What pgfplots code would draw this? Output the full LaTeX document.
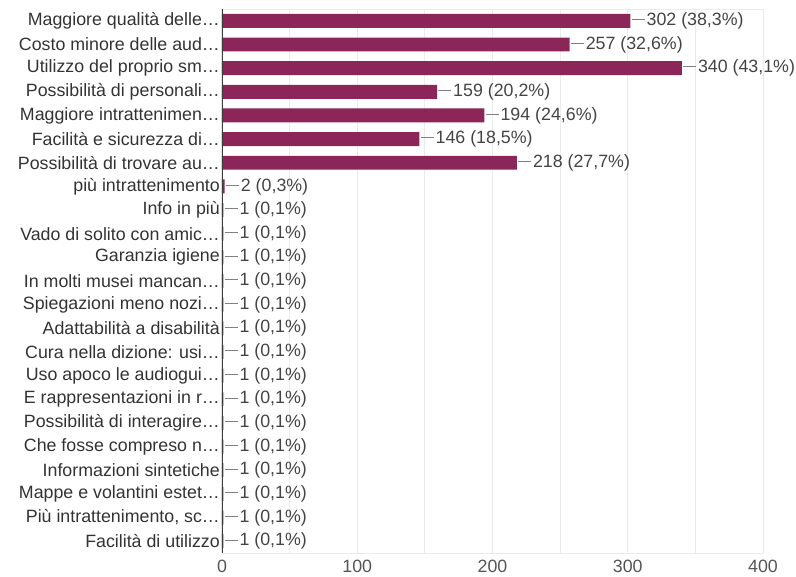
\documentclass[border=0pt]{standalone}
\usepackage{fontspec}
\setmainfont{Liberation Sans}
\usepackage{pgfplots}
\pgfplotsset{compat=1.18}
\usepackage{pgfplotstable}
\definecolor{barc}{RGB}{140,38,88}
\definecolor{lab}{RGB}{51,51,51}
\definecolor{vlab}{RGB}{68,68,68}
\definecolor{tlab}{RGB}{85,85,85}
\definecolor{gridc}{RGB}{235,235,235}
\definecolor{axc}{RGB}{60,60,60}
\pgfplotstableread{
i v p
0 302 38.3
1 257 32.6
2 340 43.1
3 159 20.2
4 194 24.6
5 146 18.5
6 218 27.7
7 2 0.3
8 1 0.1
9 1 0.1
10 1 0.1
11 1 0.1
12 1 0.1
13 1 0.1
14 1 0.1
15 1 0.1
16 1 0.1
17 1 0.1
18 1 0.1
19 1 0.1
20 1 0.1
21 1 0.1
22 1 0.1
}\datatab
\newcommand{\fs}{\fontsize{17.8bp}{20bp}\selectfont}
\begin{document}
\begin{tikzpicture}
\begin{axis}[
  at={(0,0)}, anchor=south west,
  scale only axis, width=541bp, height=544bp,
  xmin=0, xmax=400, ymin=-0.5, ymax=22.5,
  y dir=reverse,
  xtick={0,100,200,300,400},
  minor x tick num=1,
  xmajorgrids=true, xminorgrids=true, ymajorgrids=false,
  major grid style={draw=gridc, line width=0.8bp},
  minor grid style={draw=gridc, line width=0.8bp},
  axis line style={draw=gridc, line width=0.8bp},
  major tick length=0pt, minor tick length=0pt,
  ytick={0,...,22},
  yticklabels={Maggiore qualità delle…, Costo minore delle aud…, Utilizzo del proprio sm…, Possibilità di personali…, Maggiore intrattenimen…, Facilità e sicurezza di…, Possibilità di trovare au…, più intrattenimento, Info in più, Vado di solito con amic…, Garanzia igiene, In molti musei mancan…, Spiegazioni meno nozi…, Adattabilità a disabilità, {Cura nella dizione: usi…}, Uso apoco le audiogui…, E rappresentazioni in r…, Possibilità di interagire…, Che fosse compreso n…, Informazioni sintetiche, Mappe e volantini estet…, {Più intrattenimento, sc…}, Facilità di utilizzo},
  yticklabel style={font=\fs, text=lab, inner xsep=2bp},
  xticklabel style={font=\fs, text=tlab, inner ysep=0pt, yshift=-6.5bp},
  /pgf/number format/assume math mode=true,
]
\addplot[xbar, bar width=0.59, fill=barc, draw=none,
  point meta=explicit,
  nodes near coords={\textcolor{gray}{\rule[0.3em]{13bp}{0.9bp}}\hspace{2bp}\pgfmathprintnumber[fixed,precision=0]{\pgfkeysvalueof{/data point/x}} (\pgfmathprintnumber[fixed,precision=1,fixed zerofill,use comma]{\pgfplotspointmeta}\%)},
  nodes near coords style={font=\fs, text=vlab, anchor=west, inner xsep=1bp},
] table[x=v, y=i, meta=p] {\datatab};
\draw[axc, line width=1.2bp] (axis cs:0,-0.5) -- (axis cs:0,22.5);
\end{axis}
\pgfresetboundingbox
\path (-222bp,-24bp) rectangle (574bp,553bp);
\end{tikzpicture}
\end{document}
